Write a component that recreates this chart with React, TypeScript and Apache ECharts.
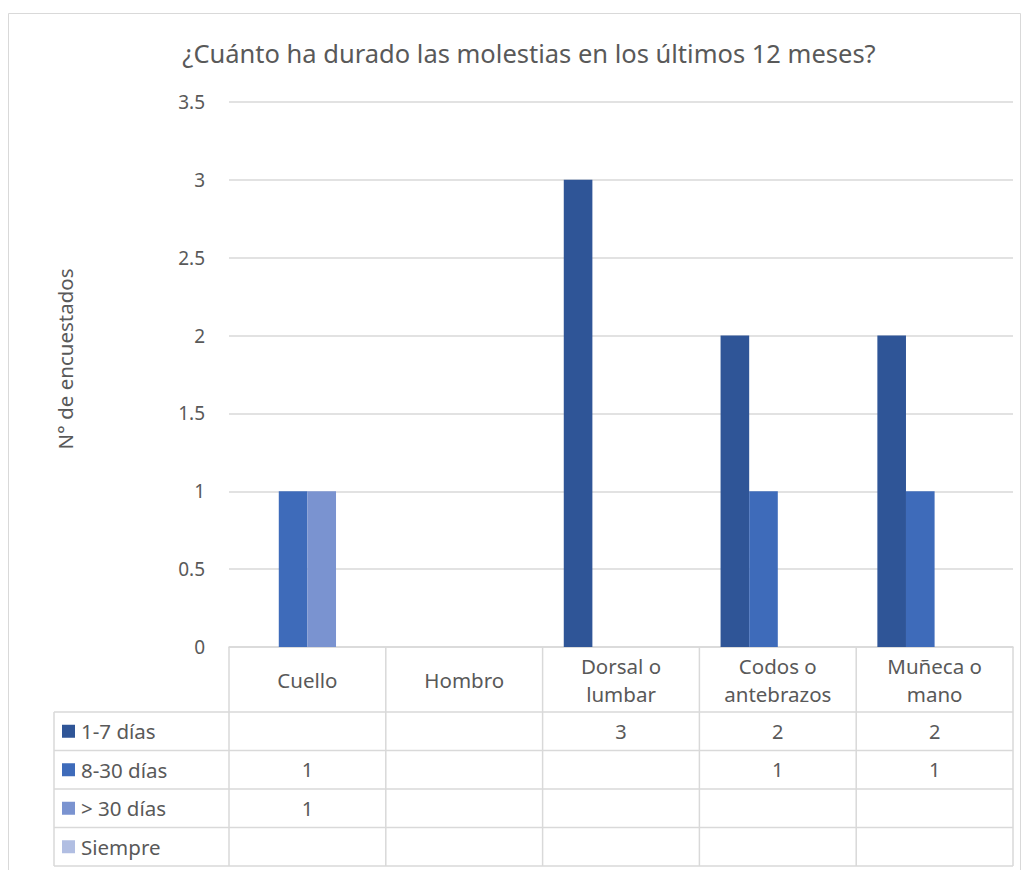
import React, { useEffect, useRef } from "react";
import * as echarts from "echarts";

const title = "¿Cuánto ha durado las molestias en los últimos 12 meses?";
const yAxisName = "N° de encuestados";
const categories = ["Cuello", "Hombro", "Dorsal o\nlumbar", "Codos o\nantebrazos", "Muñeca o\nmano"];
const seriesNames = ["1-7 días", "8-30 días", "> 30 días", "Siempre"];
const dias1a7 = [null, null, 3, 2, 2];
const dias8a30 = [1, null, null, 1, 1];
const mas30 = [1, null, null, null, null];
const siempre = [null, null, null, null, null];
const seriesData = [dias1a7, dias8a30, mas30, siempre];
const colors = ["#2F5597", "#3E6BBA", "#7A93D0", "#B1BEE2"];

const W = 1026;
const H = 870;
const L = 229;
const R = 1013;
const T = 102;
const B = 647;
const tableLeft = 54;
const rowLines = [712, 750.5, 789, 827.5, 866];
const FONT = "'Noto Sans', 'Open Sans', sans-serif";
const TXT = "#595959";
const LINE = "#D9D9D9";

export default function App() {
  const ref = useRef<HTMLDivElement>(null);
  useEffect(() => {
    document.body.style.margin = "0";
    const chart = echarts.init(ref.current!, null, { renderer: "svg" });
    const colW = (R - L) / categories.length;
    const g: any[] = [];
    // outer frame
    g.push({ type: "rect", shape: { x: 8.5, y: 13.5, width: 1012, height: 900 }, style: { fill: "none", stroke: LINE, lineWidth: 1 }, silent: true });
    // y axis name
    g.push({ type: "text", x: 65, y: 359, rotation: Math.PI / 2, style: { text: yAxisName, fill: TXT, font: `20.5px ${FONT}`, align: "center", verticalAlign: "middle" }, silent: true });
    // table horizontal lines
    rowLines.forEach((y) => {
      g.push({ type: "line", shape: { x1: tableLeft, y1: y, x2: R, y2: y }, style: { stroke: LINE, lineWidth: 1.5 }, silent: true });
    });
    // table vertical lines
    g.push({ type: "line", shape: { x1: tableLeft, y1: rowLines[0], x2: tableLeft, y2: rowLines[rowLines.length - 1] }, style: { stroke: LINE, lineWidth: 1.5 }, silent: true });
    for (let i = 0; i <= categories.length; i++) {
      const x = L + i * colW;
      g.push({ type: "line", shape: { x1: x, y1: B, x2: x, y2: rowLines[rowLines.length - 1] }, style: { stroke: LINE, lineWidth: 1.5 }, silent: true });
    }
    // rows: legend key + values
    seriesNames.forEach((name, si) => {
      const cy = (rowLines[si] + rowLines[si + 1]) / 2;
      g.push({ type: "rect", shape: { x: 62, y: cy - 6.5, width: 13, height: 13 }, style: { fill: colors[si] }, silent: true });
      g.push({ type: "text", x: 81, y: cy, style: { text: name, fill: TXT, font: `20.5px ${FONT}`, align: "left", verticalAlign: "middle" }, silent: true });
      seriesData[si].forEach((v, ci) => {
        if (v === null || v === undefined) return;
        g.push({ type: "text", x: L + (ci + 0.5) * colW, y: cy, style: { text: String(v), fill: TXT, font: `20px ${FONT}`, align: "center", verticalAlign: "middle" }, silent: true });
      });
    });

    chart.setOption({
      animation: false,
      title: {
        text: title,
        left: 529,
        top: 40,
        padding: 0,
        textAlign: "center",
        textStyle: { fontFamily: FONT, fontSize: 25.5, fontWeight: "normal", color: TXT },
      },
      grid: { left: L, right: W - R, top: T, bottom: H - B, containLabel: false },
      xAxis: {
        type: "category",
        data: categories,
        axisLine: { lineStyle: { color: LINE, width: 1.5 } },
        axisTick: { show: false },
        axisLabel: {
          margin: 32.5,
          verticalAlign: "middle",
          fontFamily: FONT,
          fontSize: 20.5,
          lineHeight: 28,
          color: TXT,
          interval: 0,
        },
      },
      yAxis: {
        type: "value",
        min: 0,
        max: 3.5,
        interval: 0.5,
        axisLine: { show: false },
        axisTick: { show: false },
        splitLine: { lineStyle: { color: LINE, width: 1.5 } },
        axisLabel: { margin: 24, fontFamily: FONT, fontSize: 19, color: TXT },
      },
      series: seriesNames.map((name, si) => ({
        type: "bar",
        name,
        data: seriesData[si],
        barGap: "0%",
        barCategoryGap: "27%",
        itemStyle: { color: colors[si] },
      })),
      graphic: g,
    });
    return () => chart.dispose();
  }, []);
  return <div ref={ref} style={{ width: W, height: H }} />;
}
